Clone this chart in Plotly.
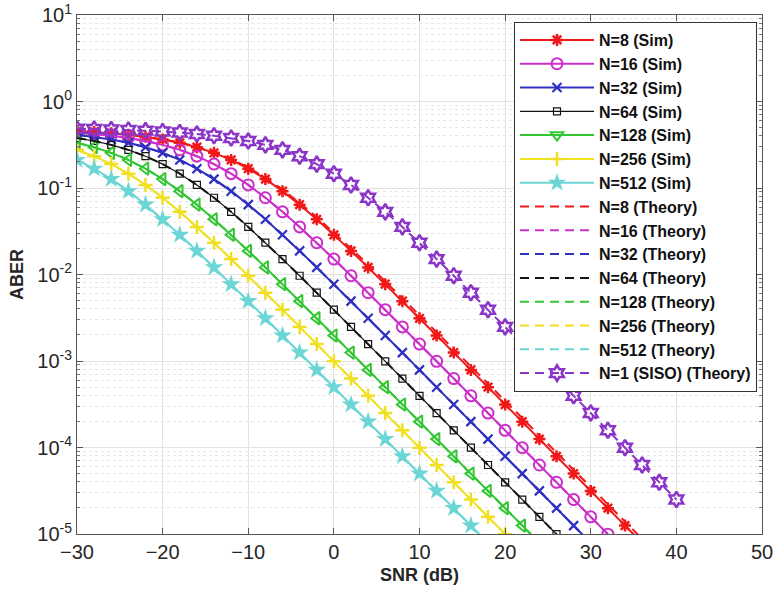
import plotly.graph_objects as go

# SNR grid (dB) shared by all curves; each series uses the leading part of it
snr_db = [-30, -28, -26, -24, -22, -20, -18, -16, -14, -12, -10, -8, -6, -4, -2, 0,
          2, 4, 6, 8, 10, 12, 14, 16, 18, 20, 22, 24, 26, 28, 30, 32, 34, 36, 38, 40]

# Simulated ABER for N receive antennas
aber_n8_sim = [0.4556, 0.4442, 0.4301, 0.4125, 0.3908, 0.3644, 0.3328, 0.2961, 0.2549,
               0.2111, 0.1673, 0.1267, 0.0919, 0.0642, 0.0435, 0.0288, 0.01875, 0.01208,
               0.00772, 0.00492, 0.00312, 0.00197, 0.00125, 7.89e-4, 4.98e-4, 3.14e-4,
               1.99e-4, 1.25e-4, 7.91e-5, 4.99e-5, 3.15e-5, 1.99e-5, 1.25e-5, 7.9e-6]
aber_n16_sim = [0.4375, 0.4217, 0.4022, 0.3782, 0.3492, 0.3151, 0.2760, 0.2332, 0.1890,
                0.1464, 0.1085, 0.0771, 0.0530, 0.0355, 0.0233, 0.01507, 0.00967, 0.00616,
                0.00392, 0.00248, 0.00157, 9.92e-4, 6.27e-4, 3.96e-4, 2.50e-4, 1.58e-4,
                9.95e-5, 6.28e-5, 3.96e-5, 2.50e-5, 1.58e-5, 9.95e-6]
aber_n32_sim = [0.4125, 0.3908, 0.3644, 0.3328, 0.2961, 0.2549, 0.2111, 0.1673, 0.1267,
                0.0919, 0.0642, 0.0435, 0.0288, 0.01875, 0.01208, 0.00772, 0.00492, 0.00312,
                0.00197, 0.00125, 7.89e-4, 4.98e-4, 3.14e-4, 1.99e-4, 1.25e-4, 7.91e-5,
                4.99e-5, 3.15e-5, 1.99e-5, 1.25e-5, 7.9e-6]
aber_n64_sim = [0.3782, 0.3492, 0.3151, 0.2760, 0.2332, 0.1890, 0.1464, 0.1085, 0.0771,
                0.0530, 0.0355, 0.0233, 0.01507, 0.00967, 0.00616, 0.00392, 0.00248, 0.00157,
                9.92e-4, 6.27e-4, 3.96e-4, 2.50e-4, 1.58e-4, 9.95e-5, 6.28e-5, 3.96e-5,
                2.50e-5, 1.58e-5, 9.95e-6]
aber_n128_sim = [0.3328, 0.2961, 0.2549, 0.2111, 0.1673, 0.1267, 0.0919, 0.0642, 0.0435,
                 0.0288, 0.01875, 0.01208, 0.00772, 0.00492, 0.00312, 0.00197, 0.00125,
                 7.89e-4, 4.98e-4, 3.14e-4, 1.99e-4, 1.25e-4, 7.91e-5, 4.99e-5, 3.15e-5,
                 1.99e-5, 1.25e-5, 7.9e-6]
aber_n256_sim = [0.2760, 0.2332, 0.1890, 0.1464, 0.1085, 0.0771, 0.0530, 0.0355, 0.0233,
                 0.01507, 0.00967, 0.00616, 0.00392, 0.00248, 0.00157, 9.92e-4, 6.27e-4,
                 3.96e-4, 2.50e-4, 1.58e-4, 9.95e-5, 6.28e-5, 3.96e-5, 2.50e-5, 1.58e-5,
                 9.95e-6]
aber_n512_sim = [0.2111, 0.1673, 0.1267, 0.0919, 0.0642, 0.0435, 0.0288, 0.01875, 0.01208,
                 0.00772, 0.00492, 0.00312, 0.00197, 0.00125, 7.89e-4, 4.98e-4, 3.14e-4,
                 1.99e-4, 1.25e-4, 7.91e-5, 4.99e-5, 3.15e-5, 1.99e-5, 1.25e-5, 7.9e-6]

# Theoretical ABER
aber_n8_theory = [0.4560, 0.4450, 0.4310, 0.4140, 0.3925, 0.3665, 0.3355, 0.2995, 0.2590,
                  0.2160, 0.1725, 0.1315, 0.0960, 0.0675, 0.0460, 0.0306, 0.0200, 0.0130,
                  0.00834, 0.00533, 0.00339, 0.00215, 0.00137, 8.67e-4, 5.48e-4, 3.47e-4,
                  2.19e-4, 1.38e-4, 8.74e-5, 5.52e-5, 3.49e-5, 2.20e-5, 1.39e-5, 8.8e-6]
aber_n16_theory = aber_n16_sim
aber_n32_theory = aber_n32_sim
aber_n64_theory = aber_n64_sim
aber_n128_theory = aber_n128_sim
aber_n256_theory = aber_n256_sim
aber_n512_theory = aber_n512_sim
aber_siso_theory = [0.4842, 0.4801, 0.4750, 0.4685, 0.4604, 0.4502, 0.4375, 0.4217, 0.4022,
                    0.3782, 0.3492, 0.3151, 0.2760, 0.2332, 0.1890, 0.1464, 0.1085, 0.0771,
                    0.0530, 0.0355, 0.0233, 0.01507, 0.00967, 0.00616, 0.00392, 0.00248,
                    0.00157, 9.92e-4, 6.27e-4, 3.96e-4, 2.50e-4, 1.58e-4, 9.95e-5, 6.28e-5,
                    3.96e-5, 2.50e-5]

labels_n = ["8", "16", "32", "64", "128", "256", "512"]

# Decade ticks of the ABER axis
y_tick_vals = [1e-5, 1e-4, 1e-3, 1e-2, 1e-1, 1e0, 1e1]
y_tick_text = ["10<sup>-5</sup>", "10<sup>-4</sup>", "10<sup>-3</sup>", "10<sup>-2</sup>",
               "10<sup>-1</sup>", "10<sup>0</sup>", "10<sup>1</sup>"]
x_tick_vals = [-30, -20, -10, 0, 10, 20, 30, 40, 50]

RED = "#F01818"
MAGENTA = "#CC30CC"
BLUE = "#3030C0"
BLACK = "#141414"
GREEN = "#33C633"
YELLOW = "#F0E020"
CYAN = "#6CD6D6"
PURPLE = "#8A35C8"

sim_series = [aber_n8_sim, aber_n16_sim, aber_n32_sim, aber_n64_sim,
              aber_n128_sim, aber_n256_sim, aber_n512_sim]
theory_series = [aber_n8_theory, aber_n16_theory, aber_n32_theory, aber_n64_theory,
                 aber_n128_theory, aber_n256_theory, aber_n512_theory]
colors = [RED, MAGENTA, BLUE, BLACK, GREEN, YELLOW, CYAN]
line_widths = [2, 2, 2, 1.2, 2, 2, 2]
# (plot symbol, legend symbol, size, outline width)
markers = [
    ("asterisk-open", "asterisk-open", 10, 2.5),
    ("circle-open", "circle-open", 11, 2),
    ("x-thin-open", "x-thin-open", 9, 2.2),
    ("square-open", "square-open", 7, 1.2),
    ("triangle-left-open", "triangle-down-open", 11, 2),
    ("cross-thin-open", "cross-thin-open", 10, 2.5),
    ("star", "star", 14, 0),
]

fig = go.Figure()

for n, ys, col, lw, (sym, leg_sym, size, mlw) in zip(labels_n, sim_series, colors,
                                                      line_widths, markers):
    marker = dict(symbol=sym, size=size, color=col, line=dict(color=col, width=mlw))
    fig.add_trace(go.Scatter(
        x=snr_db[:len(ys)], y=ys, mode="lines+markers",
        line=dict(color=col, width=lw), marker=marker,
        name=f"N={n} (Sim)", showlegend=(sym == leg_sym)))
    if sym != leg_sym:
        fig.add_trace(go.Scatter(
            x=[None], y=[None], mode="lines+markers",
            line=dict(color=col, width=lw),
            marker=dict(symbol=leg_sym, size=size, color=col,
                        line=dict(color=col, width=mlw)),
            name=f"N={n} (Sim)"))

for n, ys, col in zip(labels_n, theory_series, colors):
    fig.add_trace(go.Scatter(
        x=snr_db[:len(ys)], y=ys, mode="lines",
        line=dict(color=col, width=2, dash="9px,6px"),
        name=f"N={n} (Theory)"))

fig.add_trace(go.Scatter(
    x=snr_db[:len(aber_siso_theory)], y=aber_siso_theory, mode="lines+markers",
    line=dict(color=PURPLE, width=2, dash="9px,6px"),
    marker=dict(symbol="hexagram-open", size=12, color=PURPLE,
                line=dict(color=PURPLE, width=2.5)),
    name="N=1 (SISO) (Theory)"))

FONT = "Liberation Sans, Arial, sans-serif"
tick_font = dict(family=FONT, size=20, color="#262626")
title_font = dict(family=FONT, size=18, color="#262626", weight="bold")

fig.update_layout(
    width=774, height=600,
    margin=dict(l=77, r=12, t=15, b=66),
    paper_bgcolor="white", plot_bgcolor="white",
    font=dict(family=FONT, size=20, color="#262626"),
    showlegend=True,
    legend=dict(
        x=0.9927, y=0.9865, xanchor="right", yanchor="top",
        bgcolor="white", bordercolor="#333333", borderwidth=1,
        font=dict(family=FONT, size=16, color="#111111", weight="bold"),
        itemwidth=74, tracegroupgap=0,
    ),
    xaxis=dict(
        range=[-30, 50], tickvals=x_tick_vals, automargin=False,
        title=dict(text="SNR (dB)", font=title_font, standoff=6),
        tickfont=tick_font,
        showline=True, linecolor="#555555", linewidth=1, mirror="allticks",
        ticks="inside", ticklen=6, tickcolor="#555555",
        showgrid=True, gridcolor="#E2E2E2", gridwidth=1,
        zeroline=False,
    ),
    yaxis=dict(
        type="log", range=[-5, 1], automargin=False,
        tickvals=y_tick_vals, ticktext=y_tick_text,
        title=dict(text="ABER", font=title_font, standoff=8),
        tickfont=tick_font,
        showline=True, linecolor="#555555", linewidth=1, mirror="allticks",
        ticks="inside", ticklen=6, tickcolor="#555555",
        showgrid=True, gridcolor="#E2E2E2", gridwidth=1,
        zeroline=False,
        minor=dict(dtick="D1", ticks="inside", ticklen=3, tickcolor="#777777",
                   showgrid=True, gridcolor="#E6E6E6", griddash="dot"),
    ),
)

fig.write_html("out.html")
